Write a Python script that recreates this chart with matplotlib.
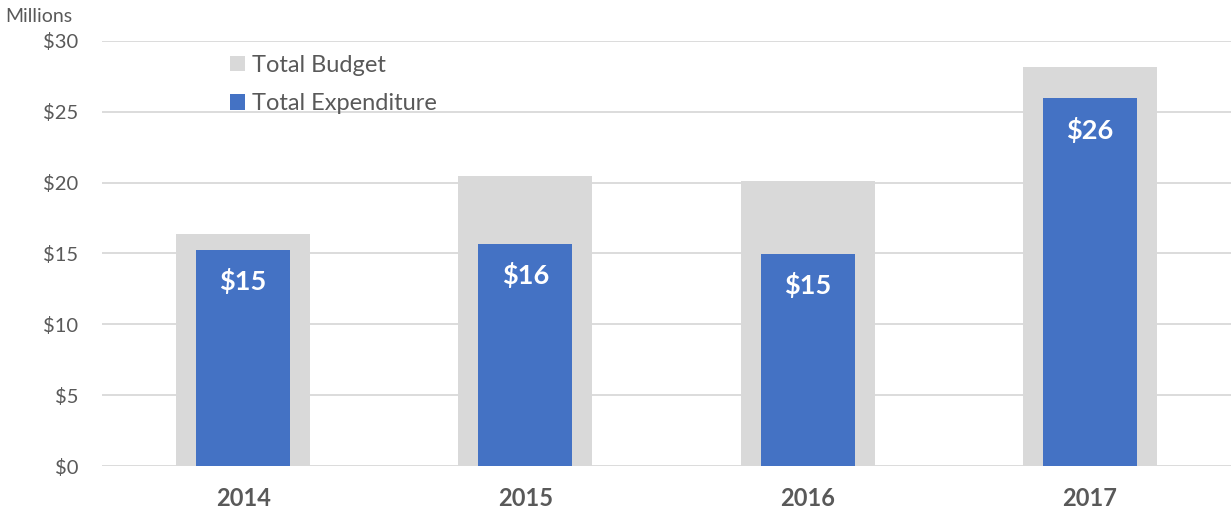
import matplotlib.pyplot as plt
import numpy as np

years = ["2014", "2015", "2016", "2017"]
budget = [16.4, 20.5, 20.1, 28.15]
expenditure = [15.25, 15.7, 14.95, 25.95]
expenditure_labels = ["$15", "$16", "$15", "$26"]
y_ticks = [0, 5, 10, 15, 20, 25, 30]

plt.rcParams["font.family"] = ["Lato", "DejaVu Sans"]
text_color = "#595959"

fig = plt.figure(figsize=(12.31, 5.11), dpi=100)
ax = fig.add_axes([102 / 1231, 45 / 511, 1129 / 1231, 425 / 511])

x = np.arange(len(years))
b1 = ax.bar(x, budget, width=0.475, color="#D9D9D9", label="Total Budget", zorder=2)
b2 = ax.bar(x, expenditure, width=0.333, color="#4472C4", label="Total Expenditure", zorder=3)

for xi, val, lab in zip(x, expenditure, expenditure_labels):
    ax.annotate(lab, (xi, val), xytext=(0, -22.5), textcoords="offset points",
                ha="center", va="center", color="white", fontsize=19.5,
                fontweight="bold", zorder=4)

ax.set_xlim(-0.5, 3.5)
ax.set_ylim(0, 30)
ax.set_yticks(y_ticks)
ax.set_yticklabels([f"${v}" for v in y_ticks], fontsize=14.5, color=text_color)
ax.set_xticks(x)
ax.set_xticklabels(years, fontsize=17, fontweight="bold", color=text_color)
ax.tick_params(axis="both", length=0)
ax.tick_params(axis="y", pad=17)
ax.tick_params(axis="x", pad=15)
ax.grid(axis="y", color="#D9D9D9", linewidth=1.3, zorder=0)
ax.set_axisbelow(True)
for s in ax.spines.values():
    s.set_visible(False)

fig.text(5 / 1231, 1 - 17 / 511, "Millions", fontsize=14, color=text_color,
         va="center", ha="left")

leg = ax.legend(handles=[b1, b2], loc="upper left", bbox_to_anchor=(0.105, 0.99),
                frameon=False, fontsize=17, handlelength=0.62, handleheight=0.62,
                handletextpad=0.3, labelspacing=0.75, borderaxespad=0)
for t in leg.get_texts():
    t.set_color(text_color)

fig.savefig("out.png", dpi=100)
